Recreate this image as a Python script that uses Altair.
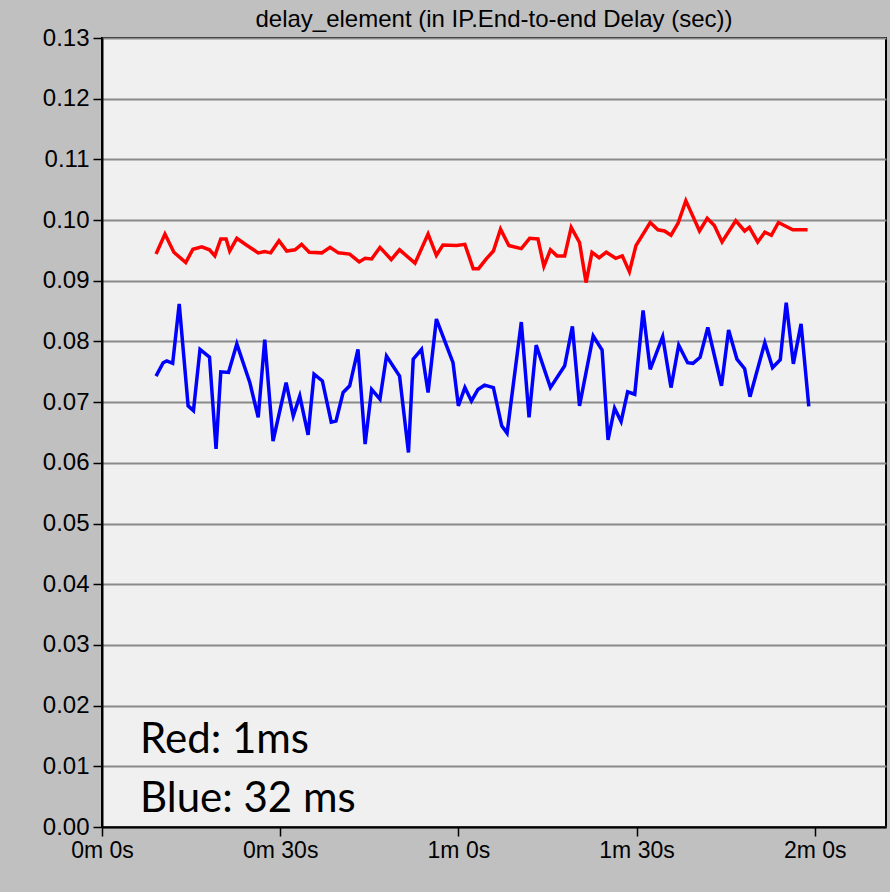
import altair as alt
import pandas as pd

# ---- data ----
blue_t = [9.1, 10.3, 10.9, 11.9, 13.0, 14.5, 15.4, 16.5, 18.1, 19.2, 20.0, 21.3, 22.7, 24.9, 26.3,
          27.4, 28.8, 31.0, 32.2, 33.3, 34.7, 35.7, 37.1, 38.6, 39.4, 40.6, 41.7, 43.1, 44.3, 45.4,
          46.8, 47.9, 50.1, 51.6, 52.4, 53.8, 54.9, 56.3, 59.1, 60.0, 61.1, 62.2, 63.3, 64.4, 65.9,
          67.3, 68.2, 70.6, 71.9, 73.1, 75.5, 77.9, 79.2, 80.4, 82.7, 84.2, 85.2, 86.3, 87.4, 88.5,
          89.7, 91.1, 92.3, 94.4, 95.8, 97.1, 98.6, 99.5, 100.7, 102.0, 104.3, 105.5, 106.9, 108.2,
          109.1, 111.6, 112.9, 114.2, 115.2, 116.4, 117.7, 119.0]
blue_v = [0.0743, 0.0765, 0.0768, 0.0764, 0.0862, 0.0694, 0.0686, 0.0787, 0.0774, 0.0623, 0.0750,
          0.0749, 0.0796, 0.0732, 0.0675, 0.0803, 0.0636, 0.0732, 0.0677, 0.0710, 0.0646, 0.0746,
          0.0735, 0.0667, 0.0669, 0.0716, 0.0727, 0.0787, 0.0631, 0.0721, 0.0705, 0.0776, 0.0743,
          0.0617, 0.0771, 0.0787, 0.0716, 0.0837, 0.0765, 0.0694, 0.0724, 0.0702, 0.0721, 0.0728,
          0.0724, 0.0661, 0.0649, 0.0832, 0.0675, 0.0794, 0.0724, 0.0760, 0.0825, 0.0694, 0.0809,
          0.0786, 0.0638, 0.0690, 0.0668, 0.0717, 0.0713, 0.0851, 0.0754, 0.0808, 0.0724, 0.0794,
          0.0765, 0.0764, 0.0774, 0.0823, 0.0727, 0.0819, 0.0771, 0.0755, 0.0709, 0.0798, 0.0757,
          0.0770, 0.0864, 0.0763, 0.0829, 0.0693]

red_t = [9.1, 10.6, 12.1, 14.1, 15.3, 16.8, 18.1, 19.0, 20.0, 20.9, 21.5, 22.7, 24.3, 26.3, 27.4,
         28.4, 29.8, 31.1, 32.5, 33.6, 34.9, 37.0, 38.4, 39.8, 41.7, 43.3, 44.3, 45.4, 46.8, 48.7,
         50.1, 52.7, 54.9, 56.3, 57.4, 59.7, 61.1, 62.5, 63.4, 64.7, 65.9, 67.1, 68.5, 70.6, 72.0,
         73.4, 74.4, 75.5, 76.6, 77.9, 79.0, 80.4, 81.5, 82.5, 83.7, 84.9, 86.5, 87.6, 88.8, 89.9,
         92.3, 93.6, 94.7, 95.8, 97.0, 98.3, 100.6, 101.9, 103.1, 104.4, 106.7, 108.2, 109.0, 110.4,
         111.6, 112.7, 113.9, 116.3, 118.8]
red_v = [0.0944, 0.0977, 0.0947, 0.0930, 0.0952, 0.0956, 0.0951, 0.0941, 0.0969, 0.0969, 0.0949,
         0.0970, 0.0959, 0.0946, 0.0948, 0.0946, 0.0966, 0.0949, 0.0951, 0.0960, 0.0947, 0.0946,
         0.0955, 0.0946, 0.0944, 0.0931, 0.0937, 0.0936, 0.0955, 0.0935, 0.0951, 0.0929, 0.0977,
         0.0942, 0.0959, 0.0958, 0.0960, 0.0920, 0.0920, 0.0936, 0.0949, 0.0985, 0.0958, 0.0953,
         0.0970, 0.0969, 0.0924, 0.0951, 0.0941, 0.0941, 0.0988, 0.0963, 0.0897, 0.0947, 0.0938,
         0.0947, 0.0937, 0.0941, 0.0915, 0.0958, 0.0996, 0.0984, 0.0982, 0.0975, 0.0995, 0.1032,
         0.0982, 0.1003, 0.0991, 0.0964, 0.0999, 0.0982, 0.0988, 0.0964, 0.0980, 0.0975, 0.0996,
         0.0984, 0.0984]

x_ticks = [0, 30, 60, 90, 120]
y_ticks = [0.00, 0.01, 0.02, 0.03, 0.04, 0.05, 0.06, 0.07, 0.08, 0.09, 0.10, 0.11, 0.12, 0.13]

note_text = ["Red: 1ms", "Blue: 32 ms"]
note_t = [6.4, 6.4]
note_v = [0.0122, 0.0025]

title_text = "delay_element (in IP.End-to-end Delay (sec))"

# ---- tables ----
df = pd.concat([
    pd.DataFrame({"t": red_t, "v": red_v, "series": "Red"}),
    pd.DataFrame({"t": blue_t, "v": blue_v, "series": "Blue"}),
])
notes = pd.DataFrame({"t": note_t, "v": note_v, "label": note_text})

AXFONT = "Liberation Sans"

x_enc = alt.X(
    "t:Q",
    scale=alt.Scale(domain=[0, 132], nice=False, zero=False),
    axis=alt.Axis(
        values=x_ticks,
        labelExpr="floor(datum.value/60) + 'm ' + (datum.value % 60) + 's'",
        grid=False, title=None, labelFlush=False, labelOverlap=False,
        domainColor="black", domainWidth=2,
        tickColor="black", tickSize=9, tickWidth=1.5,
        labelFont=AXFONT, labelFontSize=23, labelColor="black", labelPadding=3,
    ),
)
y_enc = alt.Y(
    "v:Q",
    scale=alt.Scale(domain=[0, 0.13], nice=False, zero=True),
    axis=alt.Axis(
        values=y_ticks, format=".2f", grid=True,
        gridColor="#8a8a8a", gridWidth=2, title=None,
        domainColor="black", domainWidth=2,
        tickColor="black", tickSize=9, tickWidth=1.5,
        labelFont=AXFONT, labelFontSize=24, labelColor="black", labelPadding=4,
    ),
)

lines = alt.Chart(df).mark_line(strokeWidth=3.5, interpolate="linear").encode(
    x=x_enc,
    y=y_enc,
    color=alt.Color("series:N",
                    scale=alt.Scale(domain=["Red", "Blue"], range=["#ff0000", "#0000ff"]),
                    legend=None),
    detail="series:N",
)

text = alt.Chart(notes).mark_text(
    align="left", baseline="alphabetic", font="Lato", fontSize=42, color="black"
).encode(
    x=alt.X("t:Q"),
    y=alt.Y("v:Q"),
    text="label:N",
)

chart = alt.layer(lines, text).properties(
    width=784,
    height=789,
    padding={"left": 102, "top": 38, "right": 4, "bottom": 65},
    autosize="none",
    background="#c0c0c0",
    title=alt.TitleParams(title_text, font=AXFONT, fontSize=24, fontWeight="normal",
                          color="black", anchor="middle", offset=-6),
).configure_view(
    fill="#f0f0f0", stroke="black", strokeWidth=2
)

chart.save("out.html", embed_options={"renderer": "svg", "actions": False})
